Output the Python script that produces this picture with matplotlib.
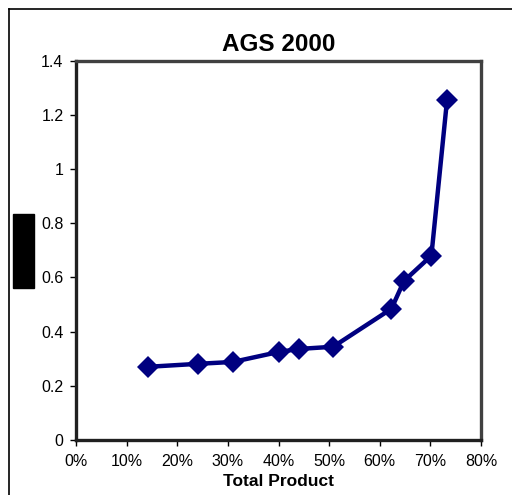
import matplotlib.pyplot as plt
from matplotlib.patches import Rectangle
from matplotlib.lines import Line2D
from matplotlib.ticker import FuncFormatter

# data
total_product = [14.2, 24.1, 31.0, 40.1, 44.1, 50.8, 62.3, 64.8, 70.2, 73.3]
values = [0.27, 0.281, 0.288, 0.325, 0.336, 0.344, 0.484, 0.587, 0.680, 1.256]
x_ticks = [0, 10, 20, 30, 40, 50, 60, 70, 80]
y_ticks = [0, 0.2, 0.4, 0.6, 0.8, 1.0, 1.2, 1.4]

plt.rcParams['font.family'] = ['Liberation Sans', 'DejaVu Sans']

fig = plt.figure(figsize=(5.12, 4.95), dpi=100)
ax = fig.add_axes([76 / 512, 55 / 495, 405 / 512, 379.5 / 495])

ax.plot(total_product, values, color='#000080', lw=3.2, marker='D',
        markersize=11.5, markeredgewidth=0, zorder=3, clip_on=False)

ax.set_xlim(0, 80)
ax.set_ylim(0, 1.4)
ax.set_xticks(x_ticks)
ax.set_yticks(y_ticks)
ax.xaxis.set_major_formatter(FuncFormatter(lambda v, p: f'{v:.0f}%'))
ax.yaxis.set_major_formatter(FuncFormatter(lambda v, p: f'{v:g}'))
ax.tick_params(direction='out', length=4, width=1, labelsize=11.5, colors='black')
ax.tick_params(axis='x', pad=6)
ax.tick_params(axis='y', pad=5)

for side in ['top', 'right']:
    ax.spines[side].set_color('#404040')
    ax.spines[side].set_linewidth(2.4)
for side in ['left', 'bottom']:
    ax.spines[side].set_color('#202020')
    ax.spines[side].set_linewidth(2.4)

ax.set_title('AGS 2000', fontsize=17.5, fontweight='bold', pad=7)
ax.set_xlabel('Total Product', fontsize=12.5, fontweight='bold', va='center')
ax.xaxis.set_label_coords(0.5, (14 - 55) / 379.5)

# outer chart frame (only left and top edges fall inside the picture)
fig.add_artist(Line2D([8.5 / 512, 1], [1 - 8.5 / 495, 1 - 8.5 / 495],
                      transform=fig.transFigure, color='black', lw=1.2))
fig.add_artist(Line2D([8.5 / 512, 8.5 / 512], [0, 1 - 8.5 / 495],
                      transform=fig.transFigure, color='black', lw=1.2))

# black box covering the y label
fig.add_artist(Rectangle((13 / 512, 1 - 288 / 495), 21 / 512, 74 / 495,
                         transform=fig.transFigure, color='black'))

fig.savefig('out.png', dpi=100)
